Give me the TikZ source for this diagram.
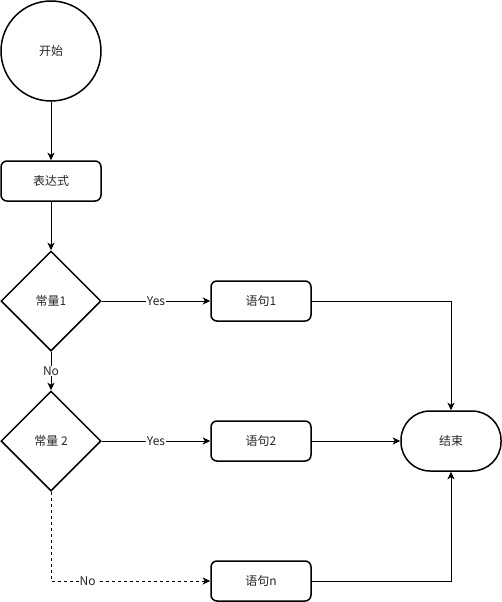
\documentclass[tikz,border=0pt]{standalone}
\usepackage{fontspec}
\setmainfont{Noto Sans CJK SC}
\usetikzlibrary{arrows.meta,shapes.geometric,positioning}
\tikzset{
  x=1pt,y=-1pt,
  every node/.style={font=\fontsize{12}{14}\selectfont, text=black!85},
  shapebox/.style={draw, line width=1.5pt, minimum width=100pt, minimum height=40pt, rounded corners=6pt, inner sep=0pt},
  startcirc/.style={draw, circle, line width=1.5pt, minimum size=100pt, inner sep=0pt},
  decision/.style={draw, diamond, line width=1.5pt, minimum width=100pt, minimum height=100pt, aspect=1, inner sep=0pt},
  endterm/.style={draw, line width=1.5pt, minimum width=100pt, minimum height=60pt, rounded corners=29pt, inner sep=0pt},
  conn/.style={draw, line width=0.9pt, -{Stealth[length=7.5pt,width=7pt,inset=2pt]}},
  lbl/.style={fill=white, inner sep=1pt, font=\fontsize{12}{14}\selectfont},
}
\begin{document}
\begin{tikzpicture}
\useasboundingbox (0,0) rectangle (502,602);
\node[startcirc] (start) at (51,51) {开始};
\node[shapebox] (expr) at (51,181) {表达式};
\node[decision] (c1) at (51,301) {常量1};
\node[decision] (c2) at (51,441) {常量 2};
\node[shapebox] (s1) at (261,301) {语句1};
\node[shapebox] (s2) at (261,441) {语句2};
\node[shapebox] (sn) at (261,581) {语句n};
\node[endterm] (end) at (451,441) {结束};
\coordinate (k1) at (451,301);
\coordinate (kn) at (451,581);
\coordinate (dn) at (51,581);

\draw[conn] (start) -- (expr);
\draw[conn] (expr) -- (c1);
\draw[conn] (c1) -- node[lbl]{Yes} (s1);
\draw[conn] (c1) -- node[lbl]{No} (c2);
\draw[conn] (c2) -- node[lbl]{Yes} (s2);
\draw[conn, dashed, dash pattern=on 3pt off 3pt] (c2.south) -- (dn) -- node[lbl, pos=0.23]{No} (sn);
\draw[conn] (s1) -- (k1) -- (end.north);
\draw[conn] (s2) -- (end);
\draw[conn] (sn) -- (kn) -- (end.south);
\end{tikzpicture}
\end{document}
